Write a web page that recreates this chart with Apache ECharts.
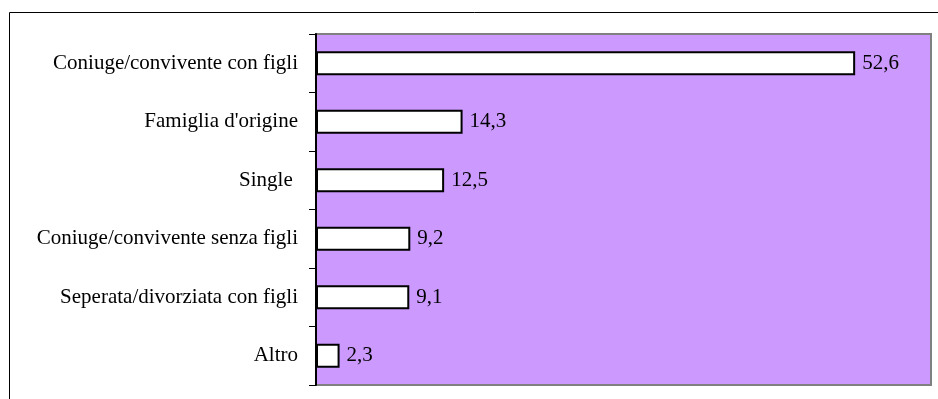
<!DOCTYPE html>
<html>
<head>
<meta charset="utf-8">
<script src="https://cdn.jsdelivr.net/npm/echarts@6/dist/echarts.min.js"></script>
<style>
  html, body { margin: 0; padding: 0; background: #ffffff; }
  #chart { width: 938px; height: 399px; }
</style>
</head>
<body>
<div id="chart"></div>
<script>
// Household situation categories, top to bottom
const categories = [
  'Coniuge/convivente con figli',
  "Famiglia d'origine",
  'Single ',
  'Coniuge/convivente senza figli',
  'Seperata/divorziata con figli',
  'Altro'
];
// Percentages shown next to each bar
const values = [52.6, 14.3, 12.5, 9.2, 9.1, 2.3];

const serif = '"Liberation Serif", "Times New Roman", serif';

const chart = echarts.init(document.getElementById('chart'), null, { renderer: 'canvas' });
chart.setOption({
  animation: false,
  backgroundColor: '#ffffff',
  graphic: [{
    type: 'rect',
    silent: true,
    shape: { x: 9.5, y: 12.5, width: 1000, height: 500 },
    style: { fill: 'none', stroke: '#000000', lineWidth: 1 }
  }],
  grid: {
    left: 316, top: 34, right: 7, bottom: 14,
    show: true,
    backgroundColor: '#CC99FF',
    borderColor: '#808080',
    borderWidth: 2
  },
  xAxis: {
    type: 'value',
    min: 0, max: 60,
    axisLine: { show: false },
    axisTick: { show: false },
    axisLabel: { show: false },
    splitLine: { show: false }
  },
  yAxis: {
    type: 'category',
    inverse: true,
    data: categories,
    axisLine: { show: true, lineStyle: { color: '#000000', width: 2 } },
    axisTick: { show: true, length: 7, lineStyle: { color: '#000000', width: 1 } },
    axisLabel: { margin: 18, color: '#000000', fontFamily: serif, fontSize: 21 }
  },
  series: [{
    type: 'bar',
    data: values,
    barCategoryGap: '59%',
    itemStyle: { color: '#ffffff', borderColor: '#000000', borderWidth: 2 },
    label: {
      show: true,
      position: 'right',
      distance: 7,
      color: '#000000',
      fontFamily: serif,
      fontSize: 21,
      formatter: p => String(p.value).replace('.', ',')
    }
  }]
});
</script>
</body>
</html>
